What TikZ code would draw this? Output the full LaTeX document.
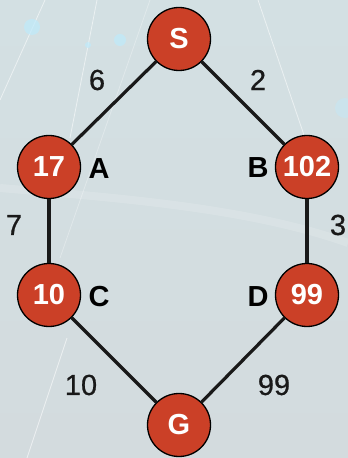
\documentclass[tikz,border=0pt]{standalone}
\usepackage{fontspec}
\setmainfont{Liberation Sans}
\newfontfamily\wtfont[FakeBold=0.7]{Liberation Sans}
\begin{document}
\begin{tikzpicture}[x=1pt,y=1pt,
  vert/.style={circle, draw=black, line width=1.3pt, fill=nodered, minimum size=63pt, inner sep=0pt, text=white, font=\fontsize{29}{31}\selectfont\bfseries},
  lbl/.style={font=\fontsize{29}{31}\selectfont\bfseries, text=black, inner sep=0pt},
  wt/.style={font=\wtfont\fontsize{29}{31}\selectfont, text=black!90, inner sep=0pt},
  edge/.style={line width=3.2pt, draw=black!90},
  streak/.style={draw=white, opacity=0.55, line width=0.8pt},
  glow/.style={fill=cyan!25!white, opacity=0.7}
]
\definecolor{nodered}{HTML}{CB4027}
\definecolor{bgtop}{HTML}{D3E0E3}
\definecolor{bgbot}{HTML}{D3DBDE}
\useasboundingbox (0,0) rectangle (348,458);
\shade[top color=bgtop, bottom color=bgbot] (0,0) rectangle (348,458);
% background streaks
\draw[streak] (45,458) -- (0,358);
\draw[streak] (97,458) -- (70,320);
\draw[streak] (258,458) -- (305,320);
\draw[streak] (67,120) -- (27,0);
\draw[streak, opacity=0.3] (150,458) -- (60,200);
\draw[white, opacity=0.15, line width=8pt] (0,270) .. controls (120,260) and (250,250) .. (348,215);
\fill[glow] (32,431) circle (8);
\fill[glow] (88,413) circle (3);
\fill[glow] (120,418) circle (6);
\fill[glow, opacity=0.4] (345,350) circle (10);
% nodes
\node[vert] (S) at (179,419) {S};
\node[vert] (A) at (49,291) {17};
\node[vert] (B) at (307,291) {102};
\node[vert] (C) at (49,163) {10};
\node[vert] (D) at (307,163) {99};
\node[vert] (G) at (179,33) {G};
% edges
\draw[edge] (S) -- (A);
\draw[edge] (S) -- (B);
\draw[edge] (A) -- (C);
\draw[edge] (B) -- (D);
\draw[edge] (C) -- (G);
\draw[edge] (D) -- (G);
% letter labels
\node[lbl] (la) at (99,289) {A};
\node[lbl] (lb) at (258,290) {B};
\node[lbl] (lc) at (99,161) {C};
\node[lbl] (ld) at (258,161) {D};
% weights
\node[wt] (w6) at (97,378) {6};
\node[wt] (w2) at (258,378) {2};
\node[wt] (w7) at (14,233) {7};
\node[wt] (w3) at (338,233) {3};
\node[wt] (w10) at (81,73) {10};
\node[wt] (w99) at (274,73) {99};
\end{tikzpicture}
\end{document}
